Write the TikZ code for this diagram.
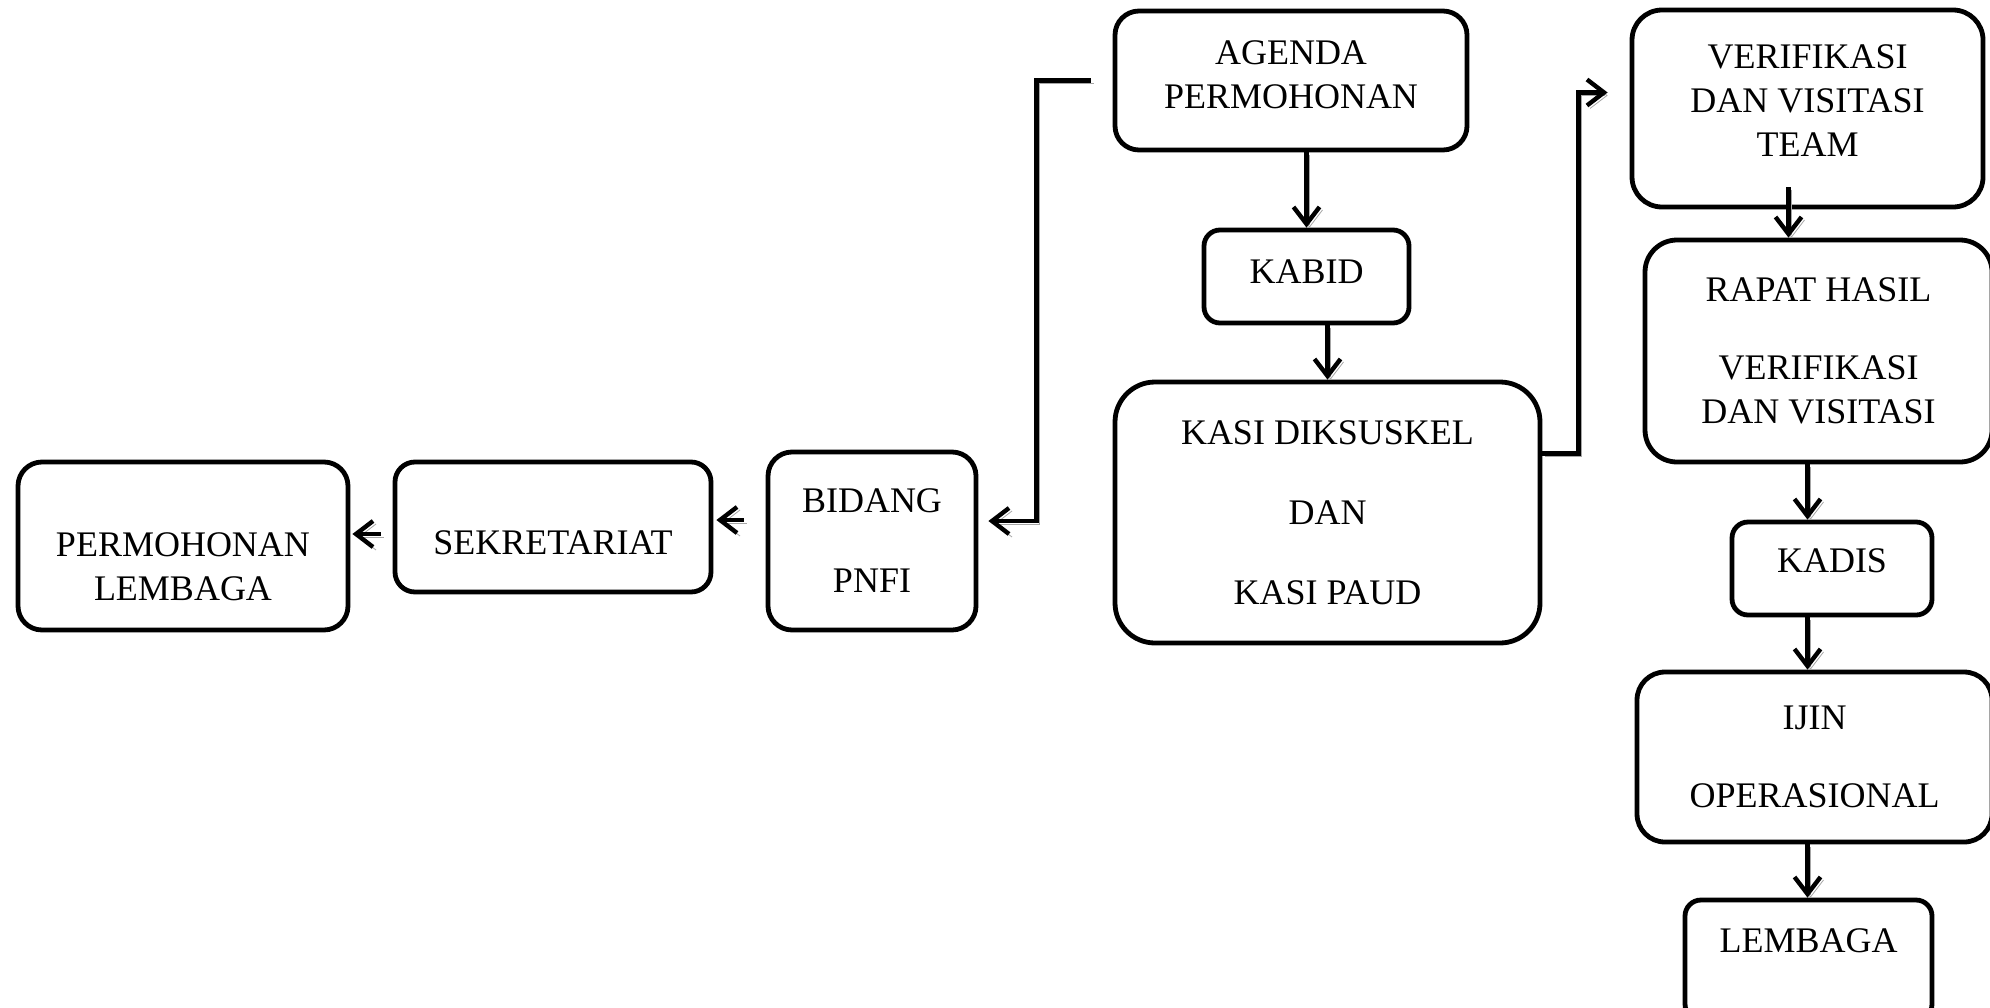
\documentclass[tikz,border=0pt]{standalone}
\usepackage{fontspec}
\setmainfont{Liberation Serif}
\usetikzlibrary{positioning,arrows.meta}

\begin{document}
\begin{tikzpicture}[x=0.5pt, y=-0.5pt,
  box/.style={draw, line width=2.4pt, rounded corners=12pt, align=center, inner sep=0pt,
    font=\fontsize{18}{22}\selectfont},
  conn/.style={line width=2.2pt, -{Straight Barb[length=8.5pt,width=13pt]},
    preaction={draw=black!35, transform canvas={shift={(1.5pt,-1.5pt)}}}}]
\useasboundingbox (0,0) rectangle (1990,1007);

% middle column
\node[box, minimum width=176pt, minimum height=69.5pt] (agenda) at (1291,80.5) {AGENDA\\PERMOHONAN\rule[-6pt]{0pt}{6pt}};
\node[box, minimum width=102.5pt, minimum height=46.5pt, rounded corners=8pt] (kabid) at (1306.5,276.5) {KABID\rule[-5pt]{0pt}{5pt}};
\node[box, minimum width=212.5pt, minimum height=130.5pt, rounded corners=20pt] (kasi) at (1327.5,512.5) {KASI DIKSUSKEL\\[18pt]DAN\\[18pt]KASI PAUD};

% right column
\node[box, minimum width=175.5pt, minimum height=98.5pt, rounded corners=15pt] (verif) at (1807.5,108.5) {VERIFIKASI\\DAN VISITASI\\TEAM\rule[-8pt]{0pt}{8pt}};
\node[box, minimum width=173.5pt, minimum height=111pt, rounded corners=16pt] (rapat) at (1818.5,351) {RAPAT HASIL\\[17pt]VERIFIKASI\\DAN VISITASI};
\node[box, minimum width=100pt, minimum height=46.5pt, rounded corners=8pt] (kadis) at (1832,568.5) {KADIS\rule[-8pt]{0pt}{8pt}};
\node[box, minimum width=177.5pt, minimum height=85pt, rounded corners=14pt] (ijin) at (1814.5,757) {IJIN\\[17pt]OPERASIONAL};
\node[box, minimum width=123.5pt, minimum height=60pt, rounded corners=8pt] (lembaga) at (1808.5,960) {LEMBAGA\rule[-19pt]{0pt}{19pt}};

% left row
\node[box, minimum width=104pt, minimum height=89pt] (bidang) at (872,541) {BIDANG\\[18pt]PNFI};
\node[box, minimum width=158pt, minimum height=65pt, rounded corners=10pt] (sekret) at (553,527) {\rule{0pt}{28pt}SEKRETARIAT};
\node[box, minimum width=165pt, minimum height=84pt] (mohon) at (183,546) {\rule{0pt}{33pt}PERMOHONAN\\LEMBAGA};

% connectors
\draw[conn, shorten <=11pt, shorten >=5pt] (agenda.west) -- ++(-76,0) |- ([yshift=10pt]bidang.east);
\draw[conn] (kabid.north |- agenda.south) -- (kabid.north);
\draw[conn] (kasi.north |- kabid.south) -- (kasi.north);
\draw[conn, shorten >=11pt] ([yshift=29.5pt]kasi.east) -- ++(36,0) |- ([yshift=8pt]verif.west);
\draw[conn, shorten <=-11pt] ([xshift=-9.5pt]verif.south) -- ([xshift=-9.5pt]verif.south |- rapat.north);
\draw[conn] (rapat.south -| verif.south) -- (kadis.north -| verif.south);
\draw[conn] (kadis.south -| verif.south) -- (ijin.north -| verif.south);
\draw[conn] (ijin.south -| verif.south) -- (lembaga.north -| verif.south);
\draw[conn, shorten <=11pt, shorten >=1.5pt] ([yshift=10.5pt]bidang.west) -- ([yshift=10.5pt]bidang.west -| sekret.east);
\draw[conn, shorten <=6pt, shorten >=1pt] ([yshift=-3.5pt]sekret.west) -- ([yshift=-3.5pt]sekret.west -| mohon.east);

\end{tikzpicture}
\end{document}
